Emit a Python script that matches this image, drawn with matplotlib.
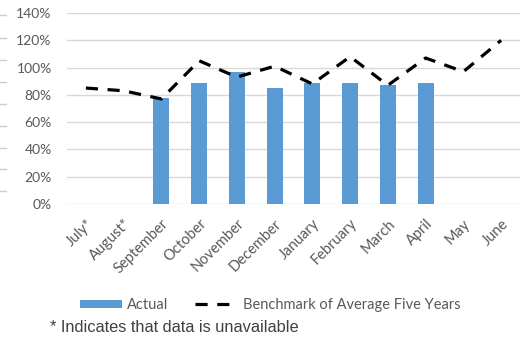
import matplotlib
matplotlib.use("Agg")
import matplotlib.pyplot as plt
from matplotlib.lines import Line2D
from matplotlib.patches import Patch
import numpy as np

months = ["July*", "August*", "September", "October", "November", "December",
          "January", "February", "March", "April", "May", "June"]
actual = [None, None, 78, 89, 97, 85, 89, 89, 87, 89, None, None]
benchmark = [85, 83, 77, 105, 93, 101, 88, 108, 87, 107, 97, 120]
y_ticks = [0, 20, 40, 60, 80, 100, 120, 140]

W, H = 525, 341
fig = plt.figure(figsize=(W / 100, H / 100), dpi=100)
ax = fig.add_axes([67 / W, 1 - 204 / H, 453 / W, 191 / H])

tick_font = "Lato"
grey_text = "#595959"
dash = (3.8, 3.0)

x = np.arange(len(months))
bar_x = [i for i, v in zip(x, actual) if v is not None]
bar_v = [v for v in actual if v is not None]
ax.bar(bar_x, bar_v, width=0.43, color="#5b9bd5", zorder=2)
ax.plot(x, benchmark, color="black", lw=2.3, dashes=dash, zorder=3,
        dash_capstyle="butt")

ax.set_xlim(-0.5, len(months) - 0.5)
ax.set_ylim(0, 140)
ax.set_yticks(y_ticks)
ax.set_yticklabels([f"{t}%" for t in y_ticks], fontsize=10, color=grey_text,
                   family=tick_font)
ax.set_xticks(x)
ax.set_xticklabels(months, rotation=45, ha="right", rotation_mode="anchor",
                   fontsize=10.5, color=grey_text, family=tick_font)
ax.tick_params(axis="x", length=0, pad=9)
ax.tick_params(axis="y", length=0, pad=11)
ax.grid(axis="y", color="#d9d9d9", lw=1, zorder=0)
for s in ax.spines.values():
    s.set_visible(False)

handles = [Patch(facecolor="#5b9bd5", label="Actual"),
           Line2D([], [], color="black", lw=2.3, dashes=dash,
                  label="Benchmark of Average Five Years")]
fig.legend(handles=handles, loc="center", bbox_to_anchor=(270 / W, 1 - 305 / H),
           ncol=2, frameon=False, handlelength=2.9, handleheight=0.45,
           columnspacing=1.85, handletextpad=0.35,
           prop={"family": tick_font, "size": 10.5}, labelcolor=grey_text)

fig.text(50 / W, 1 - 328 / H, "* Indicates that data is unavailable",
         family="Liberation Sans", fontsize=11.8, color="#404040", va="center")

# small marks along the left edge
for yy in [15, 38, 60, 82, 104, 126, 148, 169, 191]:
    fig.add_artist(Line2D([0, 6 / W], [1 - yy / H] * 2, color="#cccccc",
                          lw=1, transform=fig.transFigure))

fig.savefig("out.png", dpi=100)
